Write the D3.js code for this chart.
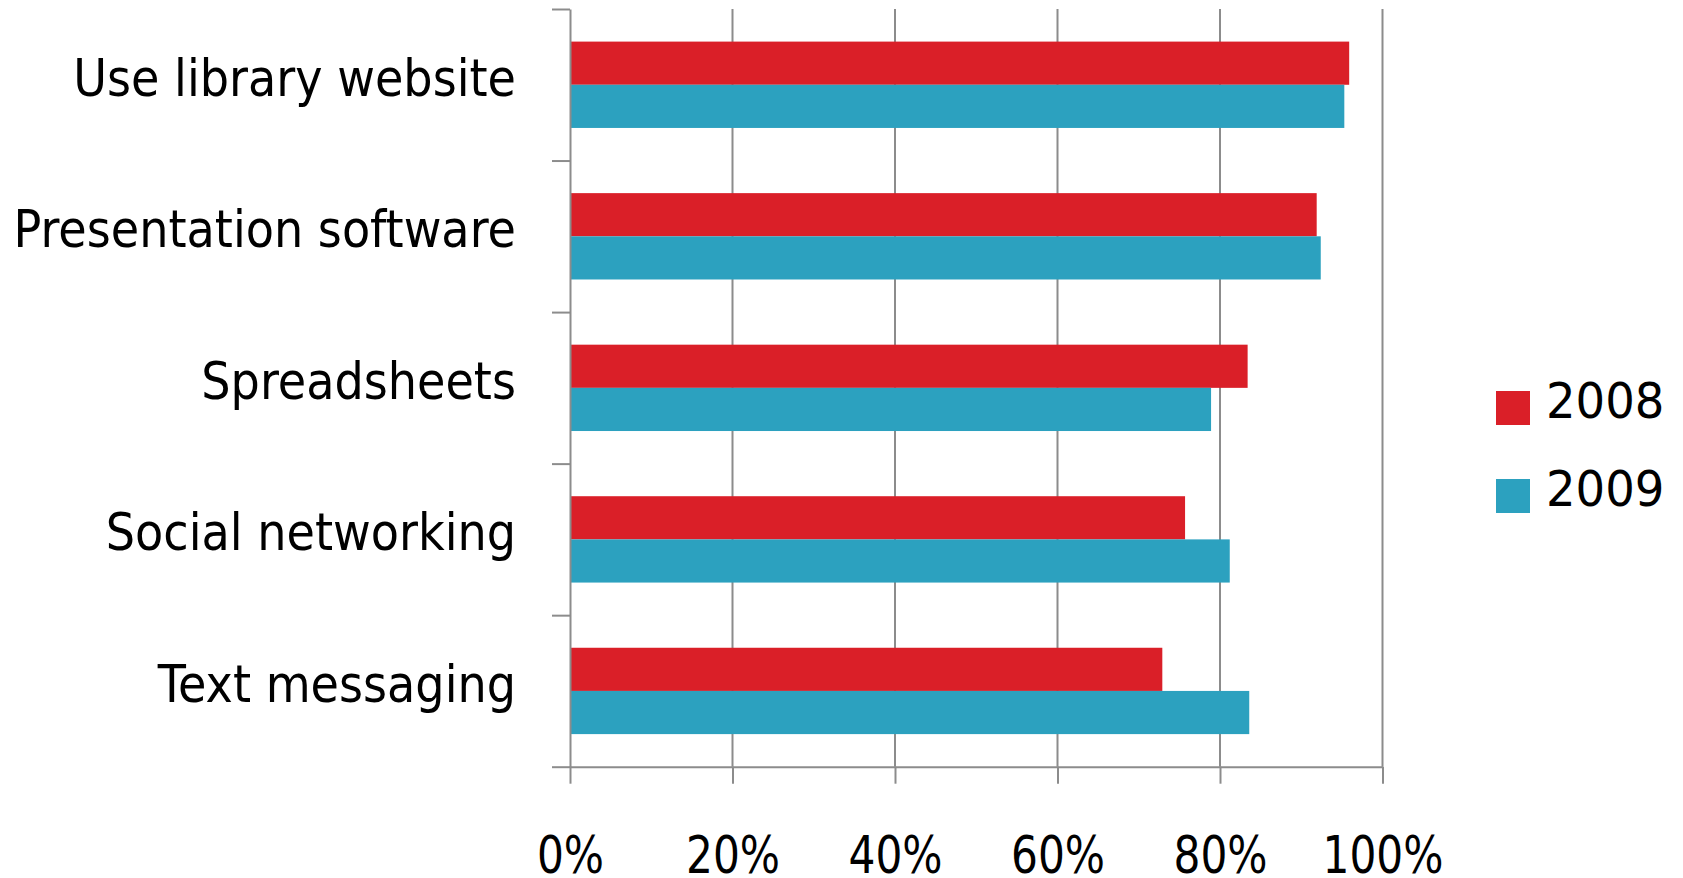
<!DOCTYPE html>
<html>
<head>
<meta charset="utf-8">
<script src="https://cdn.jsdelivr.net/npm/d3@7"></script>
<style>
  html, body { margin: 0; padding: 0; background: #ffffff; }
  svg { display: block; }
  text { font-family: "DejaVu Sans", "Noto Sans", sans-serif; fill: #000; }
</style>
</head>
<body>
<svg id="chart" width="1683" height="878"></svg>
<script>
// Share of respondents using each tool, by survey year
const categories = ["Use library website", "Presentation software", "Spreadsheets", "Social networking", "Text messaging"];
const seriesNames = ["2008", "2009"];
const values2008 = [0.959, 0.919, 0.834, 0.757, 0.729];
const values2009 = [0.953, 0.924, 0.789, 0.812, 0.836];
const xTickValues = [0, 0.2, 0.4, 0.6, 0.8, 1.0];
const xTickLabels = ["0%", "20%", "40%", "60%", "80%", "100%"];
const seriesColors = ["#da1f28", "#2ca1bf"];

const seriesValues = [values2008, values2009];
const rows = categories.map((c, i) => ({
  category: c,
  bars: seriesNames.map((s, j) => ({ series: s, value: seriesValues[j][i], color: seriesColors[j] }))
}));

const svg = d3.select("#chart");
const plot = { left: 570, right: 1382.5, top: 9, bottom: 766.7 };
const gridColor = "#8c8c8c";
const labelSize = 51, labelStretch = 0.905, tickStretch = 0.83;

const x = d3.scaleLinear().domain([0, 1]).range([plot.left, plot.right]);
const y = d3.scaleBand().domain(categories).range([plot.top, plot.bottom]).padding(0);
const yInner = d3.scaleBand().domain(seriesNames).range([0, y.bandwidth()]).paddingInner(0).paddingOuter(0.755);
const yEdges = d3.scaleLinear().domain([0, categories.length]).range([plot.top, plot.bottom]);

// vertical gridlines
svg.append("g")
  .selectAll("line")
  .data(xTickValues.slice(1))
  .join("line")
  .attr("x1", d => x(d)).attr("x2", d => x(d))
  .attr("y1", plot.top).attr("y2", plot.bottom)
  .attr("stroke", gridColor).attr("stroke-width", 2);

// bars
const groups = svg.append("g")
  .selectAll("g")
  .data(rows)
  .join("g")
  .attr("transform", d => `translate(0,${y(d.category)})`);

groups.selectAll("rect")
  .data(d => d.bars)
  .join("rect")
  .attr("x", x(0))
  .attr("y", d => yInner(d.series))
  .attr("width", d => x(d.value) - x(0))
  .attr("height", yInner.bandwidth())
  .attr("fill", d => d.color);

// left axis: boundary ticks between categories
const leftAxis = svg.append("g")
  .attr("transform", `translate(${plot.left},0)`)
  .call(d3.axisLeft(yEdges).tickValues(d3.range(categories.length + 1)).tickSize(18).tickSizeOuter(0).tickFormat(""));
leftAxis.selectAll("path, line").attr("stroke", gridColor).attr("stroke-width", 2);

// bottom axis
const bottomAxis = svg.append("g")
  .attr("transform", `translate(0,${plot.bottom})`)
  .call(d3.axisBottom(x).tickValues(xTickValues).tickSize(17).tickSizeOuter(0)
    .tickFormat((d, i) => xTickLabels[i]));
bottomAxis.selectAll("path, line").attr("stroke", gridColor).attr("stroke-width", 2);
bottomAxis.selectAll("text")
  .attr("y", 106)
  .attr("dy", 0)
  .attr("font-family", "DejaVu Sans, sans-serif")
  .attr("font-size", labelSize)
  .attr("fill", "#000")
  .attr("transform", `scale(${tickStretch},1)`);

// category labels
svg.append("g")
  .selectAll("g")
  .data(categories)
  .join("g")
  .attr("transform", d => `translate(516,${y(d) + y.bandwidth() / 2 + 11}) scale(${labelStretch},1)`)
  .append("text")
  .attr("text-anchor", "end")
  .attr("font-size", labelSize)
  .text(d => d);

// legend
const legend = svg.append("g")
  .selectAll("g")
  .data(seriesNames)
  .join("g")
  .attr("transform", (d, i) => `translate(1496,${391 + i * 88})`);
legend.append("rect")
  .attr("width", 34).attr("height", 34)
  .attr("fill", (d, i) => seriesColors[i]);
legend.append("text")
  .attr("transform", "translate(50,27) scale(0.95,1)")
  .attr("font-size", 49)
  .text(d => d);
</script>
</body>
</html>
